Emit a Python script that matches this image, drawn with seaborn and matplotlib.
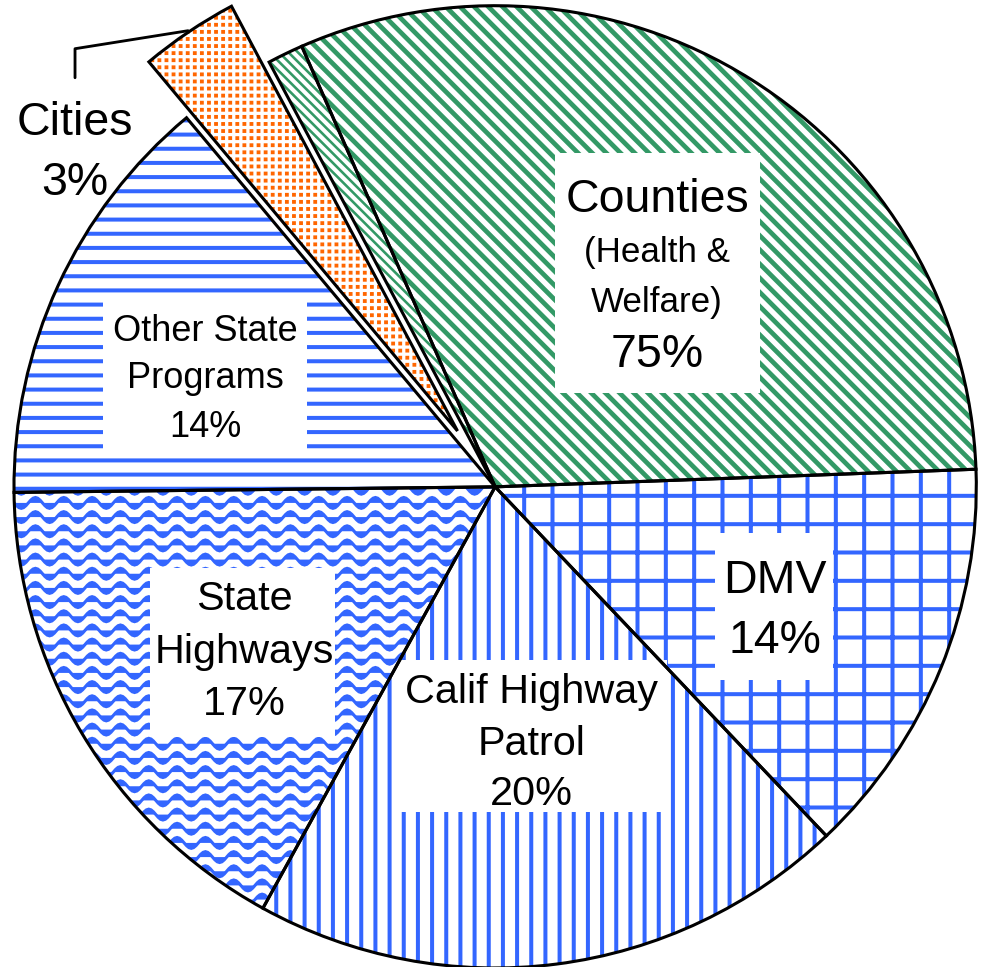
import warnings
import numpy as np
import matplotlib
matplotlib.use("Agg")
import matplotlib.pyplot as plt
import matplotlib.hatch as mhatch
from matplotlib.path import Path
from matplotlib.patches import Rectangle
import seaborn as sns

warnings.filterwarnings("ignore")

# --- Data (share of the pie, counter-clockwise from the Counties/DMV edge) ---
slices = ["Counties", "Counties (other)", "Cities", "Other State Programs",
          "State Highways", "Calif Highway Patrol", "DMV"]
shares = [31.0, 1.2, 3.3, 14.1, 16.8, 20.1, 13.5]
printed_pct = ["75%", "", "3%", "14%", "17%", "20%", "14%"]
name_lines = [["Counties", "(Health &", "Welfare)"], [], ["Cities"],
              ["Other State", "Programs"], ["State", "Highways"],
              ["Calif Highway", "Patrol"], ["DMV"]]

# --- Styles ---
explode = [0, 0, 0.14, 0, 0, 0, 0]
hatches = ["\\" * 4, "\\" * 6, "ssss", "--", "w", "||", "+"]
hatch_colors = ["#339966", "#339966", "#FF6600", "#3366FF",
                "#3366FF", "#3366FF", "#3366FF"]
hatch_widths = [2.0, 1.1, 0.6, 1.7, 1.3, 1.7, 1.7]


# extra hatch patterns: wavy rows ('w') and square dots ('s')
class WaveHatch(mhatch.HatchPatternBase):
    def __init__(self, hatch, density):
        n = hatch.count('w')
        self.num_rows = n * density * 2
        self.num_waves = n * density
        self.steps = 12
        self.num_vertices = self.num_rows * (self.num_waves * self.steps + 1)

    def set_vertices_and_codes(self, vertices, codes):
        m = self.num_waves * self.steps + 1
        x = np.linspace(0, 1, m)
        wave = 0.032 * np.sin(2 * np.pi * self.num_waves * x)
        for i in range(self.num_rows):
            seg = slice(i * m, (i + 1) * m)
            vertices[seg, 0] = x
            vertices[seg, 1] = (i + 0.5) / self.num_rows + wave
            codes[seg] = Path.LINETO
            codes[i * m] = Path.MOVETO


class DotHatch(mhatch.HatchPatternBase):
    def __init__(self, hatch, density):
        self.num_rows = hatch.count('s') * density
        self.num_vertices = self.num_rows ** 2 * 5

    def set_vertices_and_codes(self, vertices, codes):
        n = self.num_rows
        h = 0.17 / n
        sq = np.array([[-h, -h], [h, -h], [h, h], [-h, h], [-h, -h]])
        k = 0
        for i in range(n):
            for j in range(n):
                vertices[k:k + 5] = sq + [(i + 0.5) / n, (j + 0.5) / n]
                codes[k] = Path.MOVETO
                codes[k + 1:k + 4] = Path.LINETO
                codes[k + 4] = Path.CLOSEPOLY
                k += 5


mhatch._hatch_types.extend([WaveHatch, DotHatch])

sns.set_style("white")
plt.rcParams['font.family'] = ['Liberation Sans', 'DejaVu Sans']
plt.rcParams['hatch.linewidth'] = 1.7

DPI = 170
fig = plt.figure(figsize=(983.3 / DPI, 967.3 / DPI), dpi=DPI)
ax = fig.add_axes([0, 0, 1, 1])

# pixel -> data mapping (pie centre at 495,487, radius 481 px)
CX, CY, R = 495, 487, 481


def px(x, y):
    return (x - CX) / R, (CY - y) / R


# hatched fills
wedges, _ = ax.pie(shares, explode=explode, startangle=2.1, counterclock=True,
                   wedgeprops=dict(facecolor="white", linewidth=0))
for w, h, c, lw in zip(wedges, hatches, hatch_colors, hatch_widths):
    w.set_hatch(h)
    w.set_edgecolor(c)
    if hasattr(w, "set_hatch_linewidth"):
        w.set_hatch_linewidth(lw)
    w.set_zorder(1)

# white label panels
panels = {0: (555, 153, 760, 393), 3: (103, 293, 307, 457),
          6: (715, 533, 833, 680), 4: (150, 568, 335, 737),
          5: (398, 660, 667, 812)}
for i, (x0, y0, x1, y1) in panels.items():
    a = px(x0, y1)
    b = px(x1, y0)
    ax.add_patch(Rectangle(a, b[0] - a[0], b[1] - a[1], facecolor="white",
                           edgecolor="none", zorder=2))

# black wedge outlines
edges, _ = ax.pie(shares, explode=explode, startangle=2.1, counterclock=True,
                  wedgeprops=dict(fill=False, edgecolor="black", linewidth=1.3))
for w in edges:
    w.set_zorder(3)

# labels: (slice index, centre x, baselines, sizes)
layout = [
    (0, 657, [212, 262, 312, 367], [19.7, 14.8, 14.8, 19.7]),
    (2, 75, [135, 195], [19.7, 19.7]),
    (3, 205, [341, 388, 437], [15.3, 15.3, 15.3]),
    (6, 775, [593, 653], [19.7, 19.7]),
    (4, 244, [610, 663, 715], [17.5, 17.5, 17.5]),
    (5, 531, [703, 755, 805], [17.5, 17.5, 17.5]),
]
for i, xc, bases, sizes in layout:
    lines = name_lines[i] + [printed_pct[i]]
    for txt, yb, fs in zip(lines, bases, sizes):
        ax.text(*px(xc, yb), txt, ha="center", va="baseline", fontsize=fs,
                color="black", zorder=4)

# leader line for Cities
lead = [px(75, 78), px(75, 49), px(188, 31)]
ax.plot([p[0] for p in lead], [p[1] for p in lead], color="black", lw=1.2,
        zorder=4)

ax.set_aspect("auto")
ax.set_xlim(-CX / R, (983 - CX) / R)
ax.set_ylim((CY - 967) / R, CY / R)
ax.axis("off")

fig.savefig("out.png", dpi=DPI)
